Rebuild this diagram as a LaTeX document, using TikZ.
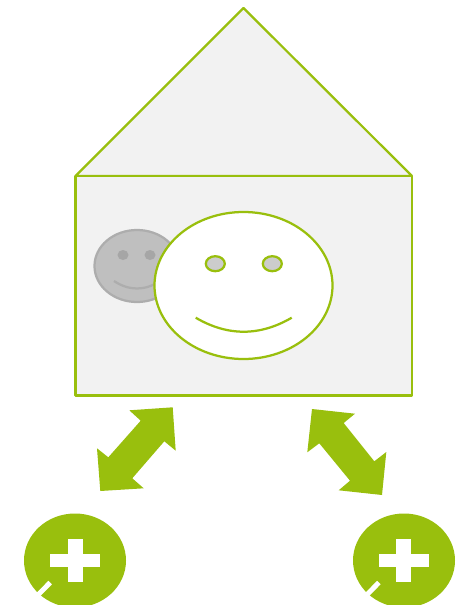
\documentclass[tikz,border=0pt]{standalone}
\definecolor{hsgreen}{RGB}{153,191,13}
\definecolor{hswall}{RGB}{242,242,242}
\definecolor{hsface}{RGB}{191,191,191}
\definecolor{hsedge}{RGB}{173,173,173}
\definecolor{hseye}{RGB}{166,166,166}
\definecolor{hspupil}{RGB}{204,204,204}
\begin{document}
\begin{tikzpicture}[
  x=0.02cm,y=-0.02cm,
  wall/.style={draw=hsgreen,fill=hswall,line width=0.045cm,line join=bevel},
  bigface/.style={draw=hsgreen,line width=0.045cm},
  smallface/.style={draw=hsedge,line width=0.045cm},
  arr/.style={fill=hsgreen},
  notch/.style={draw=white,line width=0.1cm},
]
  \clip (0,0) rectangle (461,605);

  % House
  \draw[wall] (75.5,176) -- (243.5,8) -- (412,176) -- cycle;
  \draw[wall] (75.5,176) rectangle (412,395.5);

  % Grey face (behind)
  \draw[smallface,fill=hsface] (137,266) ellipse [x radius=42.5,y radius=36];
  \fill[hseye] (123,255) ellipse [x radius=5.5,y radius=5];
  \fill[hseye] (150,255) ellipse [x radius=5.5,y radius=5];
  \draw[smallface] (114,281) .. controls (129,291) and (145,291) .. (160,281);

  % Green face (front)
  \draw[bigface,fill=white] (243.5,285.5) ellipse [x radius=89,y radius=73.5];
  \draw[bigface,fill=hspupil] (215.3,263.7) ellipse [x radius=9.5,y radius=7.5];
  \draw[bigface,fill=hspupil] (272.3,263.7) ellipse [x radius=9.5,y radius=7.5];
  \draw[bigface] (195.7,317.7) .. controls (227.7,336.4) and (259.7,336.4) .. (291.7,317.7);

  % Left arrow
  \fill[arr] (172.7,407.3) -- (129.3,410.3) -- (140.7,420.7) -- (108.3,457.3) -- (97,448.3)
    -- (100.3,491) -- (143.7,488.3) -- (132.3,478.3) -- (164.3,441.3) -- (175.7,450.7) -- cycle;

  % Right arrow
  \fill[arr] (312,409) -- (355,413.7) -- (343.7,423) -- (374.3,461.3) -- (386.3,452)
    -- (382,495) -- (338.7,490.3) -- (350,480.7) -- (319.3,443.3) -- (307.3,452.3) -- cycle;

  % Left badge
  \fill[hsgreen] (75,560.5) ellipse [x radius=51,y radius=47];
  \fill[white] (50.3,553.7) rectangle (100,567);
  \fill[white] (67.7,539) rectangle (82.7,581.7);
  \draw[notch] (50.2,582.5) -- (36,597);

  % Right badge
  \fill[hsgreen] (404,560.5) ellipse [x radius=51,y radius=47];
  \fill[white] (378.7,553.7) rectangle (428.7,567);
  \fill[white] (396,539) rectangle (411,581.7);
  \draw[notch] (378.9,582.5) -- (364.7,597);
\end{tikzpicture}
\end{document}
